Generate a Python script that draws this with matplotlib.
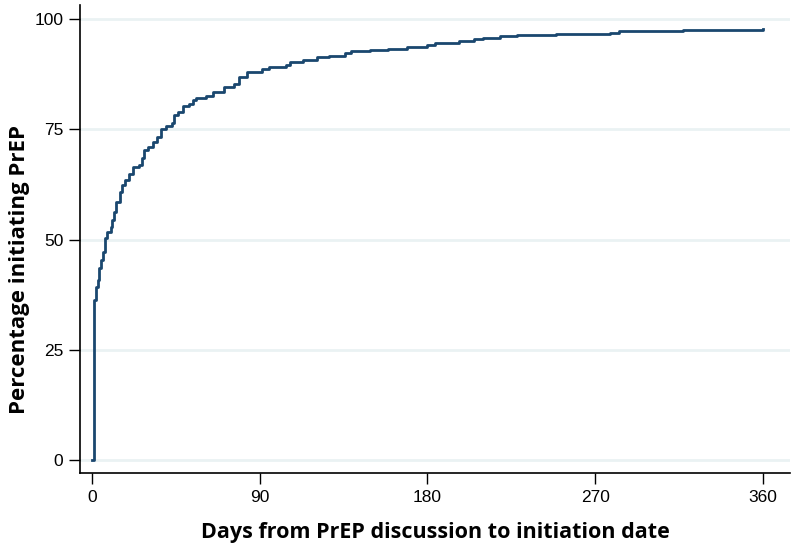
import matplotlib
matplotlib.use("Agg")
import matplotlib.pyplot as plt

# cumulative percentage initiating PrEP
days = [0, 1, 2, 3, 4, 5, 6, 7, 8, 10, 11, 12, 13, 15, 16, 18, 20, 22, 25, 27,
        28, 30, 33, 35, 37, 40, 43, 44, 46, 49, 52, 54, 56, 61, 65, 71, 76, 79,
        83, 91, 95, 104, 106, 113, 121, 127, 136, 139, 149, 159, 169, 180, 184,
        197, 205, 210, 219, 228, 249, 278, 283, 317, 349, 360]
pct = [0, 36.3, 39.3, 40.8, 43.5, 45.4, 47.3, 50.3, 51.8, 53.0, 54.4, 56.3,
       58.6, 60.9, 62.4, 63.5, 65.0, 66.5, 66.9, 68.5, 70.3, 71.1, 72.2, 73.3,
       75.2, 75.7, 76.4, 78.2, 79.0, 80.2, 80.7, 81.6, 82.2, 82.5, 83.5, 84.5,
       85.4, 86.9, 88.0, 88.6, 89.2, 89.6, 90.3, 90.7, 91.3, 91.6, 92.2, 92.8,
       93.1, 93.3, 93.7, 94.2, 94.6, 95.1, 95.4, 95.7, 96.1, 96.5, 96.7, 96.9,
       97.3, 97.5, 97.6, 97.7]

xticks = [0, 90, 180, 270, 360]
yticks = [0, 25, 50, 75, 100]

tick_font = ["Liberation Sans", "DejaVu Sans"]
label_font = ["Open Sans", "DejaVu Sans"]

fig = plt.figure(figsize=(8.0, 5.49), dpi=100)
ax = fig.add_axes([0.10, 0.138, 0.8875, 0.853])

ax.step(days, pct, where="post", color="#1a476f", linewidth=2.0, zorder=3)

ax.set_xlim(-6.4, 374.5)
ax.set_ylim(-2.9, 103.2)
ax.set_xticks(xticks)
ax.set_yticks(yticks)
ax.set_xticklabels([str(t) for t in xticks], family=tick_font, fontsize=12.5)
ax.set_yticklabels([str(t) for t in yticks], family=tick_font, fontsize=12.5)
ax.tick_params(direction="out", length=8, width=1.0, color="black", pad=4)

ax.grid(True, axis="y", color="#eaf2f3", linewidth=2.0, zorder=0)
ax.set_axisbelow(True)

for side in ["top", "right"]:
    ax.spines[side].set_visible(False)
for side in ["left", "bottom"]:
    ax.spines[side].set_linewidth(1.2)

ax.set_xlabel("Days from PrEP discussion to initiation date", family=label_font,
              fontweight="bold", fontsize=15.5, labelpad=12)
# label sits a bit below the axis centre in the original
ax.set_ylabel("Percentage initiating PrEP", family=label_font,
              fontweight="bold", fontsize=16, labelpad=3, y=0.434)

fig.savefig("out.png", dpi=100)
